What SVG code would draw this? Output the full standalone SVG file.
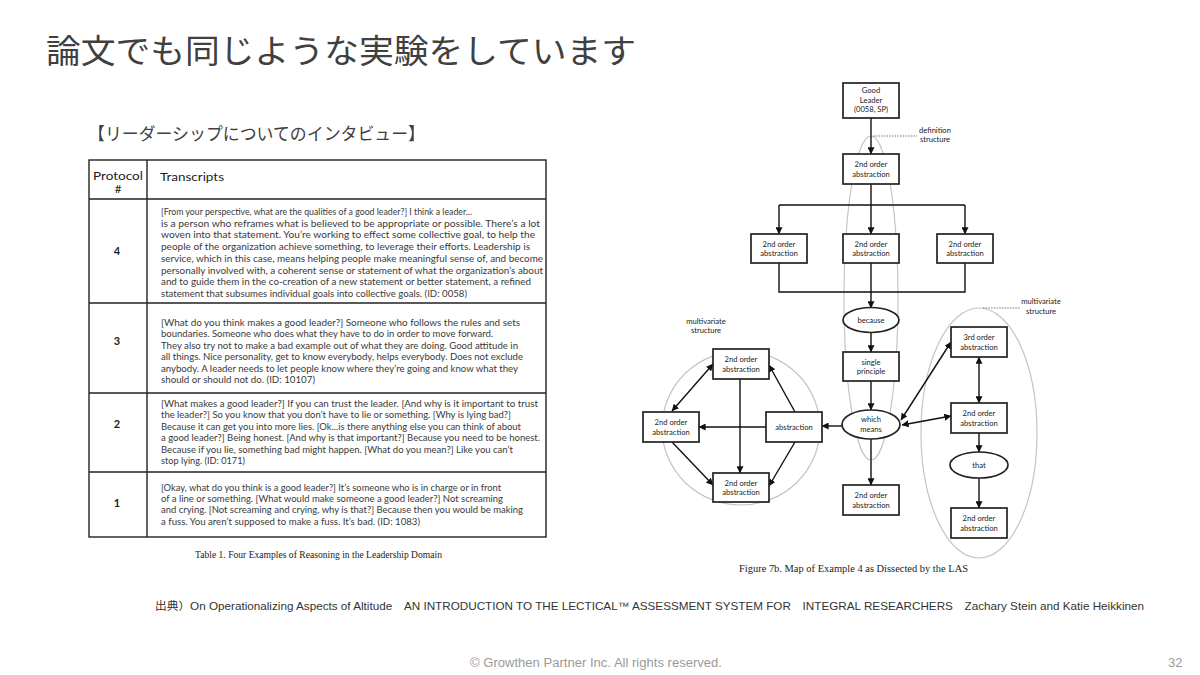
<svg xmlns="http://www.w3.org/2000/svg" width="1200" height="675" viewBox="0 0 1200 675">
<style>
.ttl{font-family:"Noto Sans CJK JP","Noto Sans",sans-serif;fill:#404040}
.tb{font-family:Lato,"Liberation Sans",sans-serif;font-size:9px;fill:#3a3a3a}
.th{font-family:Lato,"Liberation Sans",sans-serif;font-size:11.5px;fill:#222}
.num{font-family:Lato,"Liberation Sans",sans-serif;font-size:11px;font-weight:bold;fill:#222;text-anchor:middle}
.cap{font-family:"Liberation Serif",serif;font-size:10px;fill:#222}
.lb{font-family:Lato,"Liberation Sans",sans-serif;font-size:7.6px;fill:#222;text-anchor:middle}
.box{fill:#fff;stroke:#222;stroke-width:1.7}
.grid{stroke:#222;stroke-width:1.4;fill:none}
.c{stroke:#111;stroke-width:1.4;fill:none}
.ca{stroke:#111;stroke-width:1.4;fill:none;marker-end:url(#ah)}
.cd{stroke:#111;stroke-width:1.4;fill:none;marker-end:url(#ah);marker-start:url(#ah)}
.gray{fill:none;stroke:#c4c4c4;stroke-width:1.2}
.dot{stroke:#555;stroke-width:0.8;stroke-dasharray:1.5 1.2;fill:none}
.foot{font-family:"Liberation Sans",Arial,sans-serif;fill:#9a9a9a}
</style>
<defs>
<marker id="ah" viewBox="0 0 10 10" refX="9.5" refY="5" markerWidth="7" markerHeight="7" markerUnits="userSpaceOnUse" orient="auto-start-reverse">
<path d="M0,0 L10,5 L0,10 z" fill="#111"/>
</marker>
</defs>
<rect width="1200" height="675" fill="#fff"/>

<text class="ttl" x="46" y="63" font-size="33" textLength="590" lengthAdjust="spacingAndGlyphs">論文でも同じような実験をしています</text>
<text class="ttl" x="88" y="140" font-size="17.5" fill="#333" textLength="337" lengthAdjust="spacingAndGlyphs">【リーダーシップについてのインタビュー】</text>

<g id="table">
<rect x="89" y="160" width="457" height="377" class="grid"/>
<line x1="147" y1="160" x2="147" y2="537" class="grid"/>
<line x1="89" y1="199" x2="546" y2="199" class="grid"/>
<line x1="89" y1="303" x2="546" y2="303" class="grid"/>
<line x1="89" y1="393" x2="546" y2="393" class="grid"/>
<line x1="89" y1="472" x2="546" y2="472" class="grid"/>
<text class="th" x="93" y="179.5" font-size="11" textLength="50" lengthAdjust="spacingAndGlyphs">Protocol</text>
<text class="th" x="118" y="192.5" font-size="7" text-anchor="middle">#</text>
<text class="th" x="160" y="181" textLength="64" lengthAdjust="spacingAndGlyphs">Transcripts</text>
<text class="num" x="117" y="255">4</text>
<text class="num" x="117" y="345">3</text>
<text class="num" x="117" y="428">2</text>
<text class="num" x="117" y="507">1</text>
<g class="tb">
<text x="161" y="215" textLength="311" lengthAdjust="spacingAndGlyphs">[From your perspective, what are the qualities of a good leader?] I think a leader...</text>
<text x="161" y="226.7" textLength="379" lengthAdjust="spacingAndGlyphs">is a person who reframes what is believed to be appropriate or possible. There’s a lot</text>
<text x="161" y="238.4" textLength="374" lengthAdjust="spacingAndGlyphs">woven into that statement. You’re working to effect some collective goal, to help the</text>
<text x="161" y="250.1" textLength="369" lengthAdjust="spacingAndGlyphs">people of the organization achieve something, to leverage their efforts. Leadership is</text>
<text x="161" y="261.8" textLength="382" lengthAdjust="spacingAndGlyphs">service, which in this case, means helping people make meaningful sense of, and become</text>
<text x="161" y="273.5" textLength="382" lengthAdjust="spacingAndGlyphs">personally involved with, a coherent sense or statement of what the organization’s about</text>
<text x="161" y="285.2" textLength="370" lengthAdjust="spacingAndGlyphs">and to guide them in the co-creation of a new statement or better statement, a refined</text>
<text x="161" y="296.9" textLength="306" lengthAdjust="spacingAndGlyphs">statement that subsumes individual goals into collective goals. (ID: 0058)</text>

<text x="161" y="326" textLength="359" lengthAdjust="spacingAndGlyphs">[What do you think makes a good leader?] Someone who follows the rules and sets</text>
<text x="161" y="337.4" textLength="332" lengthAdjust="spacingAndGlyphs">boundaries. Someone who does what they have to do in order to move forward.</text>
<text x="161" y="348.8" textLength="357" lengthAdjust="spacingAndGlyphs">They also try not to make a bad example out of what they are doing. Good attitude in</text>
<text x="161" y="360.2" textLength="362" lengthAdjust="spacingAndGlyphs">all things. Nice personality, get to know everybody, helps everybody. Does not exclude</text>
<text x="161" y="371.6" textLength="357" lengthAdjust="spacingAndGlyphs">anybody. A leader needs to let people know where they’re going and know what they</text>
<text x="161" y="383" textLength="154" lengthAdjust="spacingAndGlyphs">should or should not do. (ID: 10107)</text>

<text x="161" y="407" textLength="377" lengthAdjust="spacingAndGlyphs">[What makes a good leader?] If you can trust the leader. [And why is it important to trust</text>
<text x="161" y="418.4" textLength="350" lengthAdjust="spacingAndGlyphs">the leader?] So you know that you don’t have to lie or something. [Why is lying bad?]</text>
<text x="161" y="429.8" textLength="360" lengthAdjust="spacingAndGlyphs">Because it can get you into more lies. [Ok...is there anything else you can think of about</text>
<text x="161" y="441.2" textLength="379" lengthAdjust="spacingAndGlyphs">a good leader?] Being honest. [And why is that important?] Because you need to be honest.</text>
<text x="161" y="452.6" textLength="352" lengthAdjust="spacingAndGlyphs">Because if you lie, something bad might happen. [What do you mean?] Like you can’t</text>
<text x="161" y="464" textLength="84" lengthAdjust="spacingAndGlyphs">stop lying. (ID: 0171)</text>

<text x="161" y="491" textLength="340" lengthAdjust="spacingAndGlyphs">[Okay, what do you think is a good leader?] It’s someone who is in charge or in front</text>
<text x="161" y="502.2" textLength="342" lengthAdjust="spacingAndGlyphs">of a line or something. [What would make someone a good leader?] Not screaming</text>
<text x="161" y="513.4" textLength="362" lengthAdjust="spacingAndGlyphs">and crying. [Not screaming and crying, why is that?] Because then you would be making</text>
<text x="161" y="524.6" textLength="259" lengthAdjust="spacingAndGlyphs">a fuss. You aren’t supposed to make a fuss. It’s bad. (ID: 1083)</text>
</g>
<text class="cap" x="195" y="558" textLength="247" lengthAdjust="spacingAndGlyphs">Table 1. Four Examples of Reasoning in the Leadership Domain</text>
</g>

<g id="structures">
<ellipse cx="871" cy="298" rx="27" ry="162" class="gray"/>
<ellipse cx="741" cy="428" rx="79" ry="77" class="gray"/>
<ellipse cx="979" cy="433" rx="58" ry="125" class="gray"/>
<line x1="873" y1="136" x2="917" y2="136" class="dot"/>
<line x1="983" y1="308" x2="1020" y2="308" class="dot"/>
<text class="lb" x="935" y="133">definition</text>
<text class="lb" x="935" y="142">structure</text>
<text class="lb" x="706" y="324">multivariate</text>
<text class="lb" x="706" y="333">structure</text>
<text class="lb" x="1041" y="304">multivariate</text>
<text class="lb" x="1041" y="314">structure</text>
</g>

<g id="connectors">
<line x1="871" y1="118" x2="871" y2="154" class="ca"/>
<polyline points="871,184 871,205" class="c"/>
<line x1="779" y1="205" x2="965" y2="205" class="c"/>
<line x1="779" y1="205" x2="779" y2="234" class="ca"/>
<line x1="871" y1="205" x2="871" y2="234" class="ca"/>
<line x1="965" y1="205" x2="965" y2="234" class="ca"/>
<polyline points="779,263 779,292 965,292 965,263" class="c"/>
<line x1="871" y1="263" x2="871" y2="308" class="ca"/>
<line x1="871" y1="333" x2="871" y2="352" class="ca"/>
<line x1="871" y1="381" x2="871" y2="410" class="ca"/>
<line x1="871" y1="439" x2="871" y2="485" class="ca"/>
<line x1="842" y1="426" x2="822" y2="426" class="ca"/>
<line x1="766" y1="427" x2="699" y2="427" class="ca"/>
<line x1="740" y1="379" x2="740" y2="473" class="ca"/>
<line x1="672" y1="411" x2="713" y2="364" class="cd"/>
<line x1="672" y1="442" x2="713" y2="485" class="ca"/>
<line x1="795" y1="412" x2="769" y2="365" class="ca"/>
<line x1="795" y1="442" x2="769" y2="486" class="ca"/>
<line x1="901" y1="420" x2="951" y2="342" class="cd"/>
<line x1="902" y1="425" x2="951" y2="416" class="cd"/>
<line x1="979" y1="357" x2="979" y2="403" class="cd"/>
<line x1="979" y1="433" x2="979" y2="452" class="ca"/>
<line x1="979" y1="478" x2="979" y2="508" class="ca"/>
</g>

<g id="n-good-leader">
<rect x="843" y="83" width="56" height="35" class="box"/>
<text class="lb" x="871" y="93">Good</text>
<text class="lb" x="871" y="102.5">Leader</text>
<text class="lb" x="871" y="112">(0058, SP)</text>
</g>
<g id="n-abs-top">
<rect x="843" y="154" width="56" height="30" class="box"/>
<text class="lb" x="871" y="167">2nd order</text>
<text class="lb" x="871" y="176.5">abstraction</text>
</g>
<g id="n-abs-l">
<rect x="751" y="234" width="56" height="29" class="box"/>
<text class="lb" x="779" y="246.5">2nd order</text>
<text class="lb" x="779" y="256">abstraction</text>
</g>
<g id="n-abs-m">
<rect x="843" y="234" width="56" height="29" class="box"/>
<text class="lb" x="871" y="246.5">2nd order</text>
<text class="lb" x="871" y="256">abstraction</text>
</g>
<g id="n-abs-r">
<rect x="937" y="234" width="56" height="29" class="box"/>
<text class="lb" x="965" y="246.5">2nd order</text>
<text class="lb" x="965" y="256">abstraction</text>
</g>
<g id="n-because">
<ellipse cx="871" cy="320" rx="28" ry="12.5" class="box"/>
<text class="lb" x="871" y="323">because</text>
</g>
<g id="n-single">
<rect x="843" y="352" width="56" height="29" class="box"/>
<text class="lb" x="871" y="364.5">single</text>
<text class="lb" x="871" y="374">principle</text>
</g>
<g id="n-which">
<ellipse cx="871" cy="424.5" rx="29" ry="14.5" class="box"/>
<text class="lb" x="871" y="422">which</text>
<text class="lb" x="871" y="431.5">means</text>
</g>
<g id="n-bottom">
<rect x="843" y="485" width="56" height="30" class="box"/>
<text class="lb" x="871" y="498">2nd order</text>
<text class="lb" x="871" y="507.5">abstraction</text>
</g>
<g id="n-abstraction">
<rect x="766" y="412" width="56" height="30" class="box"/>
<text class="lb" x="794" y="430">abstraction</text>
</g>
<g id="n-mv-left">
<rect x="643" y="412" width="56" height="30" class="box"/>
<text class="lb" x="671" y="425">2nd order</text>
<text class="lb" x="671" y="434.5">abstraction</text>
</g>
<g id="n-mv-top">
<rect x="713" y="349" width="56" height="30" class="box"/>
<text class="lb" x="741" y="362">2nd order</text>
<text class="lb" x="741" y="371.5">abstraction</text>
</g>
<g id="n-mv-bottom">
<rect x="713" y="473" width="56" height="29" class="box"/>
<text class="lb" x="741" y="485.5">2nd order</text>
<text class="lb" x="741" y="495">abstraction</text>
</g>
<g id="n-3rd">
<rect x="951" y="327" width="56" height="30" class="box"/>
<text class="lb" x="979" y="340">3rd order</text>
<text class="lb" x="979" y="349.5">abstraction</text>
</g>
<g id="n-r-mid">
<rect x="951" y="403" width="56" height="30" class="box"/>
<text class="lb" x="979" y="416">2nd order</text>
<text class="lb" x="979" y="425.5">abstraction</text>
</g>
<g id="n-that">
<ellipse cx="979" cy="465" rx="29" ry="13" class="box"/>
<text class="lb" x="979" y="468">that</text>
</g>
<g id="n-r-bottom">
<rect x="951" y="508" width="56" height="30" class="box"/>
<text class="lb" x="979" y="521">2nd order</text>
<text class="lb" x="979" y="530.5">abstraction</text>
</g>

<text class="cap" x="739" y="572" textLength="229" lengthAdjust="spacingAndGlyphs">Figure 7b. Map of Example 4 as Dissected by the LAS</text>

<text x="155" y="610" font-family="'Liberation Sans','Noto Sans CJK JP',sans-serif" font-size="11" fill="#333" textLength="989" lengthAdjust="spacingAndGlyphs">出典）On Operationalizing Aspects of Altitude　AN INTRODUCTION TO THE LECTICAL™ ASSESSMENT SYSTEM FOR　INTEGRAL RESEARCHERS　Zachary Stein and Katie Heikkinen</text>
<text class="foot" x="470" y="667" font-size="12" textLength="252" lengthAdjust="spacingAndGlyphs">© Growthen Partner Inc. All rights reserved.</text>
<text class="foot" x="1168" y="667" font-size="13">32</text>
</svg>
